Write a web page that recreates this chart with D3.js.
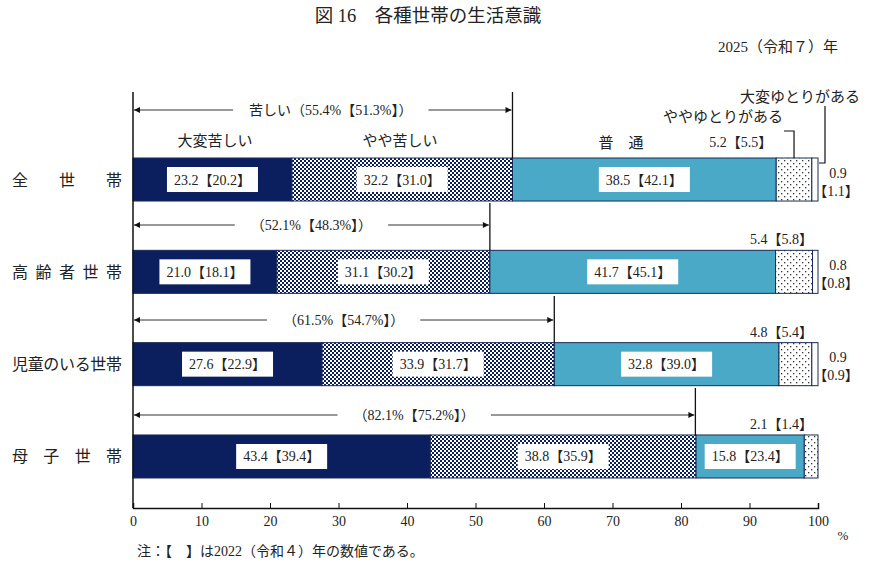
<!DOCTYPE html>
<html><head><meta charset="utf-8">
<script src="https://cdn.jsdelivr.net/npm/d3@7"></script>
<style>
body{margin:0;background:#fff;}
text{font-family:"Liberation Serif","Noto Sans CJK JP",serif;fill:#222;}
</style></head>
<body><svg id="c" width="870" height="568"></svg>
<script>
const categories = ["全　世　帯","高齢者世帯","児童のいる世帯","母　子　世　帯"];
const seriesNames = ["大変苦しい","やや苦しい","普　通","ややゆとりがある","大変ゆとりがある"];
const verySevere = [23.2, 21.0, 27.6, 43.4];
const somewhatSevere = [32.2, 31.1, 33.9, 38.8];
const normal = [38.5, 41.7, 32.8, 15.8];
const somewhatComfortable = [5.2, 5.4, 4.8, 2.1];
const veryComfortable = [0.9, 0.8, 0.9, 0];
const verySeverePrev = [20.2, 18.1, 22.9, 39.4];
const somewhatSeverePrev = [31.0, 30.2, 31.7, 35.9];
const normalPrev = [42.1, 45.1, 39.0, 23.4];
const somewhatComfortablePrev = [5.5, 5.8, 5.4, 1.4];
const veryComfortablePrev = [1.1, 0.8, 0.9, null];
const hardTotal = [55.4, 52.1, 61.5, 82.1];
const hardTotalPrev = [51.3, 48.3, 54.7, 75.2];
const xTicks = [0,10,20,30,40,50,60,70,80,90,100];

const svg = d3.select("#c");
const f1 = d3.format(".1f");
const x = d3.scaleLinear().domain([0,100]).range([133, 818]);
const y = d3.scaleBand().domain(categories).range([158, 478]).paddingInner(0.534).paddingOuter(0);
const bw = y.bandwidth();
const navy = "#0b1f5e", teal = "#4aa9c7", edge = "#1a2a55";

// patterns
const defs = svg.append("defs");
const chk = defs.append("pattern").attr("id","chk").attr("width",4).attr("height",4).attr("patternUnits","userSpaceOnUse");
chk.append("rect").attr("width",4).attr("height",4).attr("fill","#fff");
chk.append("rect").attr("width",2).attr("height",2).attr("fill",navy);
chk.append("rect").attr("x",2).attr("y",2).attr("width",2).attr("height",2).attr("fill",navy);
const dot = defs.append("pattern").attr("id","dot").attr("width",6).attr("height",6).attr("patternUnits","userSpaceOnUse");
dot.append("rect").attr("width",6).attr("height",6).attr("fill","#fff");
dot.append("rect").attr("x",1).attr("y",1).attr("width",1.3).attr("height",1.3).attr("fill","#333");
dot.append("rect").attr("x",4).attr("y",4).attr("width",1.3).attr("height",1.3).attr("fill","#333");
const marker = defs.append("marker").attr("id","ar").attr("viewBox","0 0 10 10").attr("refX",10).attr("refY",5)
  .attr("markerWidth",9).attr("markerHeight",6).attr("orient","auto-start-reverse").attr("markerUnits","userSpaceOnUse");
marker.append("path").attr("d","M0,0L10,5L0,10Z").attr("fill","#111");

const fills = [navy, "url(#chk)", teal, "url(#dot)", "#fff"];
const series = [verySevere, somewhatSevere, normal, somewhatComfortable, veryComfortable];
const prevs = [verySeverePrev, somewhatSeverePrev, normalPrev, somewhatComfortablePrev, veryComfortablePrev];

// title
svg.append("text").attr("x",428).attr("y",22).attr("text-anchor","middle").attr("font-size",18.5).text("図 16　各種世帯の生活意識");
svg.append("text").attr("x",838).attr("y",52).attr("text-anchor","end").attr("font-size",15).text("2025（令和７）年");

// segments
const segs = [];
categories.forEach((c,i)=>{
  let acc = 0;
  series.forEach((s,k)=>{
    segs.push({cat:c,i,k,x0:acc,x1:acc+s[i],v:s[i],p:prevs[k][i]});
    acc += s[i];
  });
});
const g = svg.append("g");
g.selectAll("rect.seg").data(segs.filter(d=>d.v>0)).join("rect").attr("class","seg")
  .attr("x",d=>x(d.x0)).attr("y",d=>y(d.cat))
  .attr("width",d=>Math.min(x(d.x1),x(100))-x(d.x0)).attr("height",bw)
  .attr("fill",d=>fills[d.k]).attr("stroke",edge).attr("stroke-width",1);

// value boxes inside first three segments
segs.filter(d=>d.k<3).forEach(d=>{
  const cx = (x(d.x0)+x(d.x1))/2, cy = y(d.cat)+bw/2;
  const t = g.append("text").attr("x",cx).attr("y",cy+5).attr("text-anchor","middle").attr("font-size",14)
    .text(f1(d.v)+"【"+f1(d.p)+"】");
  const w = t.node().getComputedTextLength();
  g.insert("rect",()=>t.node()).attr("x",cx-w/2-7).attr("y",cy-12.5).attr("width",w+14).attr("height",25).attr("fill","#fff");
});

// labels above ややゆとり
segs.filter(d=>d.k===3).forEach(d=>{
  const xe = d.i===0 ? x(d.x0)-4 : x(100)-5;
  const yy = d.i===0 ? y(d.cat)-11 : y(d.cat)-6;
  g.append("text").attr("x",xe).attr("y",yy).attr("text-anchor","end").attr("font-size",14)
    .text(f1(d.v)+"【"+f1(d.p)+"】");
});
// labels right of 大変ゆとり
segs.filter(d=>d.k===4 && d.v>0).forEach(d=>{
  const cy = y(d.cat)+bw/2;
  g.append("text").attr("x",838).attr("y",cy-2).attr("text-anchor","middle").attr("font-size",14).text(f1(d.v));
  g.append("text").attr("x",836).attr("y",cy+16).attr("text-anchor","middle").attr("font-size",14).text("【"+f1(d.p)+"】");
});

// row labels
categories.forEach(c=>{
  svg.append("text").attr("x",12).attr("y",y(c)+bw/2+6).attr("font-size",16)
    .attr("textLength",110).attr("lengthAdjust","spacing").text(c);
});

// left line & axis
svg.append("line").attr("x1",x(0)).attr("x2",x(0)).attr("y1",92).attr("y2",508).attr("stroke","#111").attr("stroke-width",1.5);
const axis = svg.append("g").attr("transform","translate(0,508)")
  .call(d3.axisBottom(x).tickValues(xTicks).tickSize(-5).tickPadding(8).tickFormat(d3.format("d")));
axis.select(".domain").attr("stroke","#111").attr("stroke-width",1.5);
axis.selectAll(".tick line").attr("stroke","#111");
axis.selectAll(".tick text").attr("font-size",14).attr("font-family","Liberation Serif").attr("fill","#222");
svg.append("text").attr("x",843).attr("y",540).attr("text-anchor","middle").attr("font-size",13).text("%");
svg.append("text").attr("x",137).attr("y",556).attr("font-size",14).text("注：【　】は2022（令和４）年の数値である。");

// brackets
const vTop = [92, 203, 296, 388];
const arrowY = [110, 225, 320, 415];
categories.forEach((c,i)=>{
  const xe = x(hardTotal[i]);
  const bg = svg.append("g");
  bg.append("line").attr("x1",xe).attr("x2",xe).attr("y1",vTop[i]).attr("y2",y(c)).attr("stroke","#111").attr("stroke-width",1.3);
  bg.append("line").attr("x1",x(0)+1).attr("x2",xe-1).attr("y1",arrowY[i]).attr("y2",arrowY[i]).attr("stroke","#333").attr("stroke-width",1)
    .attr("marker-start","url(#ar)").attr("marker-end","url(#ar)");
  const label = (i===0?"苦しい":"")+"（"+f1(hardTotal[i])+"%【"+f1(hardTotalPrev[i])+"%】）";
  const cx = (x(0)+xe)/2 + (i===0?8:0);
  const t = bg.append("text").attr("x",cx).attr("y",arrowY[i]+5).attr("text-anchor","middle").attr("font-size",14).text(label);
  const w = t.node().getComputedTextLength();
  bg.insert("rect",()=>t.node()).attr("x",cx-w/2-16).attr("y",arrowY[i]-9).attr("width",w+32).attr("height",18).attr("fill","#fff");
});

// series sublabels (row 0)
const c0 = categories[0];
svg.append("text").attr("x",215).attr("y",146).attr("text-anchor","middle").attr("font-size",15).text(seriesNames[0]);
svg.append("text").attr("x",400).attr("y",146).attr("text-anchor","middle").attr("font-size",15).text(seriesNames[1]);
svg.append("text").attr("x",621).attr("y",148).attr("text-anchor","middle").attr("font-size",15).text(seriesNames[2]);
svg.append("text").attr("x",783).attr("y",122).attr("text-anchor","end").attr("font-size",15).text(seriesNames[3]);
svg.append("text").attr("x",860).attr("y",102).attr("text-anchor","end").attr("font-size",15).text(seriesNames[4]);
// leaders
const s3 = segs.find(d=>d.i===0&&d.k===3);
const m3 = (x(s3.x0)+x(s3.x1))/2;
svg.append("path").attr("d",`M784,131H${m3}V${y(c0)}`).attr("fill","none").attr("stroke","#111").attr("stroke-width",1.2);
const s4 = segs.find(d=>d.i===0&&d.k===4);
svg.append("path").attr("d",`M825,106V163H${x(s4.x1)+1}`).attr("fill","none").attr("stroke","#111").attr("stroke-width",1.2);
</script></body></html>
